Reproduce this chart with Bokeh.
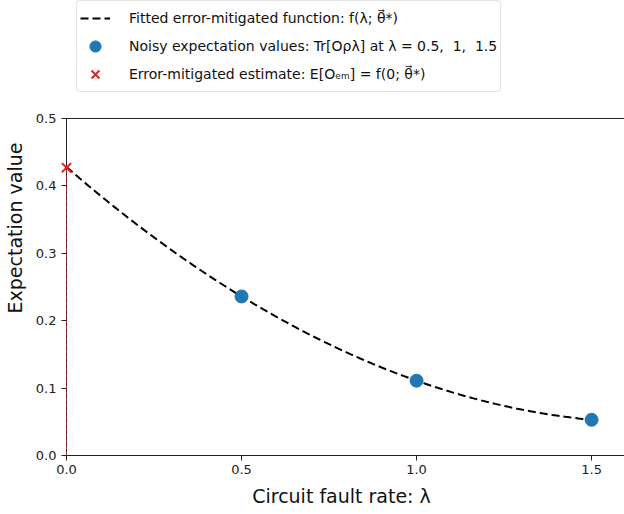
import numpy as np
from bokeh.plotting import figure
from bokeh.models import Legend, LegendItem, FixedTicker, NumeralTickFormatter, Range1d
from bokeh.embed import file_html
from bokeh.resources import INLINE

# data
noise_rates = [0.5, 1.0, 1.5]
noisy_values = [0.236, 0.111, 0.053]
mitigated_x = [0.0]
mitigated_value = [0.427]
x_ticks = [0.0, 0.5, 1.0, 1.5]
y_ticks = [0.0, 0.1, 0.2, 0.3, 0.4, 0.5]
x_max = 1.594
y_max = 0.5

# fitted quadratic through the noisy points (the "fitted function")
coef = np.polyfit(noise_rates, noisy_values, 2)
lam = np.linspace(0.0, 1.5, 121)
fit_vals = np.polyval(coef, lam)

FONT = "DejaVu Sans"

p = figure(width=624, height=514, output_backend="svg", toolbar_location=None,
           x_range=Range1d(-8 / 350, x_max), y_range=Range1d(0, 455 / 674),
           min_border_left=58, min_border_right=0, min_border_top=0, min_border_bottom=59)
p.grid.visible = False
p.outline_line_color = None
p.background_fill_color = "white"
p.border_fill_color = "white"

# spines (top and left)
p.line([0.0, x_max], [y_max, y_max], line_color="#222222", line_width=1)
p.line([0.0, 0.0], [0.0, y_max], line_color="#222222", line_width=1)

l_fit = p.line(lam, fit_vals, line_color="black", line_dash="8 4", line_width=2)
p.line([mitigated_x[0], mitigated_x[0]], [0.0, mitigated_value[0]],
       line_color="#b03030", line_dash="4 2", line_width=1, line_alpha=0.9)
r_pts = p.scatter(noise_rates, noisy_values, size=13, color="#1f77b4", marker="circle")
r_est = p.scatter(mitigated_x, mitigated_value, size=13, marker="x",
                  line_color="#d62728", line_width=2)

for ax in (p.xaxis[0], p.yaxis[0]):
    ax.major_label_text_font = FONT
    ax.major_label_text_font_size = "13px"
    ax.major_label_text_color = "#222222"
    ax.axis_label_text_font = FONT
    ax.axis_label_text_font_size = "19px"
    ax.axis_label_text_font_style = "normal"
    ax.axis_label_text_color = "#111111"
    ax.minor_tick_line_color = None
    ax.axis_line_color = "#222222"
    ax.major_tick_line_color = "#222222"
    ax.formatter = NumeralTickFormatter(format="0.0")

xa = p.xaxis[0]
xa.ticker = FixedTicker(ticks=x_ticks)
xa.bounds = (0.0, x_max)
xa.major_tick_out = 5
xa.major_tick_in = 0
xa.axis_label = "Circuit fault rate: λ"
xa.axis_label_standoff = 8
xa.major_label_standoff = 4

ya = p.yaxis[0]
ya.ticker = FixedTicker(ticks=y_ticks)
ya.axis_line_color = None
ya.major_tick_out = -3
ya.major_tick_in = 8
ya.minor_tick_out = -3
ya.minor_tick_in = 0
ya.axis_label = "Expectation value"
ya.axis_label_standoff = 7
ya.major_label_standoff = 2

legend = Legend(items=[
    LegendItem(label="Fitted error-mitigated function: f(λ; θ⃗*)", renderers=[l_fit]),
    LegendItem(label="Noisy expectation values: Tr[Oρλ] at λ = 0.5,  1,  1.5", renderers=[r_pts]),
    LegendItem(label="Error-mitigated estimate: E[Oₑₘ] = f(0; θ⃗*)", renderers=[r_est]),
], location=(18, 363))
legend.label_text_font = FONT
legend.label_text_font_size = "14px"
legend.label_text_color = "#111111"
legend.label_height = 28
legend.glyph_height = 28
legend.glyph_width = 30
legend.spacing = 0
legend.padding = 3
legend.margin = 0
legend.label_standoff = 19
legend.border_line_color = "#cccccc"
legend.border_line_width = 1
legend.border_radius = 4
legend.background_fill_alpha = 1.0
p.add_layout(legend, "center")

open("out.html", "w").write(file_html(p, INLINE))
